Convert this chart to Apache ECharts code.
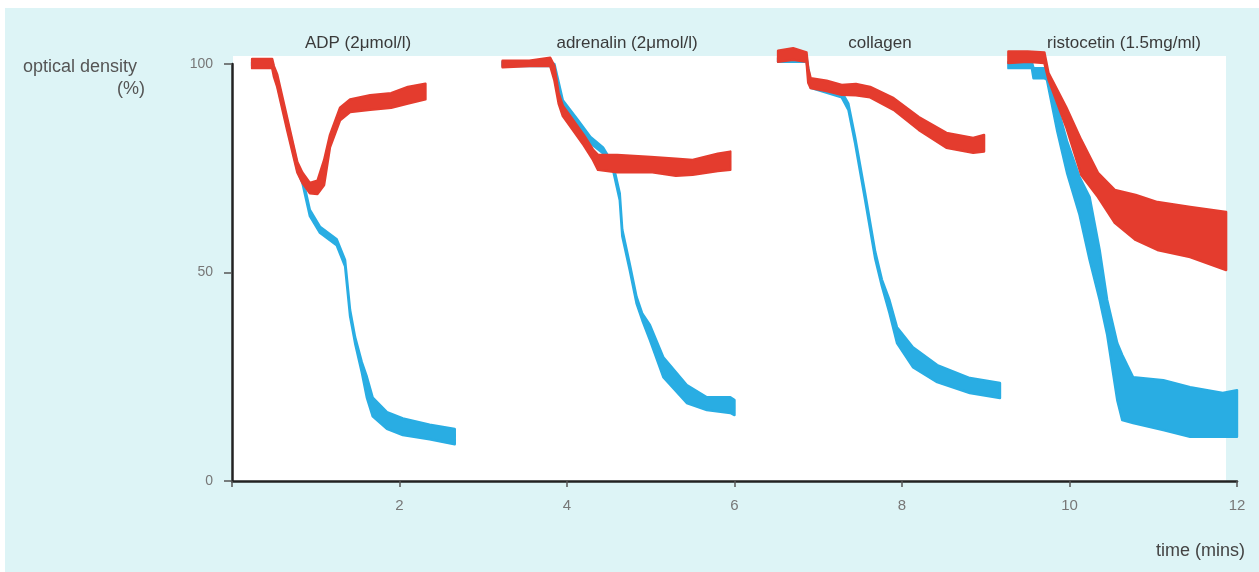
<!DOCTYPE html>
<html><head><meta charset="utf-8">
<script src="https://cdn.jsdelivr.net/npm/echarts@6/dist/echarts.min.js"></script>
<style>html,body{margin:0;padding:0;background:#fff}#c{width:1259px;height:572px}</style>
</head><body><div id="c"></div>
<script>
// ---- axis ticks ----
const xTicks = [0, 2, 4, 6, 8, 10, 12];
const yTicks = [0, 50, 100];
const panelTitles = ['ADP (2\u03bcmol/l)', 'adrenalin (2\u03bcmol/l)', 'collagen', 'ristocetin (1.5mg/ml)'];

// ---- ADP ----
const adpRedT  = [0.24, 0.48, 0.50, 0.54, 0.66, 0.78, 0.84, 0.93, 1.02, 1.10, 1.17, 1.29, 1.41, 1.65, 1.90, 2.10, 2.31];
const adpRedHi = [101.2,101.2,99.5, 97.5, 87.0, 76.5, 74.0, 71.5, 72.0, 77.0, 83.0, 89.5, 91.5, 92.5, 93.0, 94.5, 95.3];
const adpRedLo = [99.0, 99.0, 97.0, 94.5, 84.0, 74.0, 71.5, 69.0, 68.8, 71.0, 80.0, 86.5, 88.5, 89.0, 89.5, 90.5, 91.5];

const adpBlueT  = [0.24, 0.48, 0.54, 0.78, 0.84, 0.93, 1.05, 1.25, 1.35, 1.41, 1.47, 1.55, 1.61, 1.68, 1.85, 2.04, 2.36, 2.66];
const adpBlueHi = [100.5,100.5,96.5, 76.0, 73.0, 65.0, 61.0, 58.0, 53.0, 41.0, 34.5, 28.5, 25.0, 20.0, 16.5, 15.0, 13.5, 12.5];
const adpBlueLo = [99.5, 99.5, 95.0, 74.5, 71.5, 63.5, 59.5, 56.5, 51.5, 39.5, 33.0, 26.0, 20.0, 15.5, 12.5, 11.0, 10.0, 8.8];

// ---- adrenalin ----
const adrRedT  = [3.23, 3.55, 3.80, 3.85, 3.90, 3.95, 4.04, 4.20, 4.31, 4.37, 4.60, 5.00, 5.30, 5.50, 5.80, 5.95];
const adrRedHi = [100.8,100.8,101.5,99.5, 93.0, 90.0, 87.5, 83.0, 79.5, 78.2, 78.2, 77.7, 77.3, 77.0, 78.5, 79.0];
const adrRedLo = [99.2, 99.5, 99.5, 96.0, 90.5, 87.5, 85.0, 80.5, 77.0, 74.6, 74.0, 74.1, 73.2, 73.4, 74.3, 74.6];

const adrBlueT  = [3.23, 3.80, 3.85, 3.95, 4.13, 4.28, 4.43, 4.55, 4.63, 4.66, 4.75, 4.83, 4.90, 4.99, 5.15, 5.43, 5.67, 5.95, 6.00];
const adrBlueHi = [100.5,100.5,100.0,91.3, 86.6, 82.5, 80.0, 76.0, 69.0, 60.3, 52.0, 44.2, 40.1, 37.4, 29.7, 23.0, 20.1, 20.1, 19.4];
const adrBlueLo = [99.5, 99.5, 98.5, 89.8, 85.2, 81.0, 78.6, 74.5, 67.3, 58.7, 50.5, 42.6, 38.5, 33.8, 24.9, 18.7, 17.0, 16.3, 15.8];

// ---- collagen ----
const colRedT  = [6.52, 6.70, 6.86, 6.88, 6.91, 7.10, 7.28, 7.45, 7.62, 7.90, 8.20, 8.53, 8.85, 8.98];
const colRedHi = [103.2,103.8,102.8,99.0, 96.6, 96.0, 95.0, 95.2, 94.5, 91.8, 87.3, 83.5, 82.3, 83.0];
const colRedLo = [100.5,101.0,100.5,95.5, 94.2, 93.5, 92.6, 92.5, 92.0, 89.0, 84.2, 79.9, 78.7, 79.0];

const colBlueT  = [6.52, 6.86, 6.91, 7.28, 7.36, 7.44, 7.56, 7.68, 7.76, 7.85, 7.94, 8.13, 8.42, 8.81, 9.17];
const colBlueHi = [101.5,101.5,95.5, 93.3, 90.5, 82.5, 69.0, 55.0, 48.3, 43.4, 36.9, 32.1, 27.8, 24.7, 23.5];
const colBlueLo = [100.5,100.5,94.3, 92.0, 89.0, 81.0, 67.3, 53.3, 46.7, 40.3, 33.1, 27.3, 23.7, 21.1, 19.9];

// ---- ristocetin ----
const risRedT  = [9.27, 9.50, 9.70, 9.75, 9.96, 10.14, 10.34, 10.54, 10.79, 11.05, 11.44, 11.87];
const risRedHi = [103.0,103.0,102.8,97.8, 89.7, 81.8,  73.9,  69.8,  68.6,  66.9,  65.7,  64.5];
const risRedLo = [100.2,100.5,100.2,96.2, 84.9, 73.4,  68.1,  61.9,  57.8,  55.4,  53.7,  50.6];

const risBlueT  = [9.27, 9.55, 9.57, 9.70, 9.73, 9.85, 9.97, 10.12, 10.24, 10.36, 10.45, 10.57, 10.63, 10.76, 11.12, 11.44, 11.83, 12.00];
const risBlueHi = [100.5,100.5,99.0, 99.0, 97.8, 90.2, 81.5, 72.9,  68.1,  55.4,  43.4,  33.1,  30.2,  24.9,  24.2,  22.5,  21.1,  21.8];
const risBlueLo = [99.0, 99.0, 96.6, 96.6, 96.2, 84.2, 73.9, 63.8,  53.0,  43.4,  35.0,  19.4,  14.6,  13.9,  12.2,  10.6,  10.6,  10.6];

const RED = '#e43c2e';
const BLUE = '#29ade3';

function band(name, color, T, HI, LO) {
  return {
    type: 'custom', name: name, coordinateSystem: 'cartesian2d',
    silent: true, animation: false, clip: false,
    encode: { x: 0, y: [1, 2] },
    data: T.map(function (t, i) { return [t, HI[i], LO[i]]; }),
    renderItem: function (params, api) {
      if (params.dataIndex !== 0) return null;
      const pts = [];
      for (let i = 0; i < T.length; i++) pts.push(api.coord([T[i], HI[i]]));
      for (let i = T.length - 1; i >= 0; i--) pts.push(api.coord([T[i], LO[i]]));
      return { type: 'polygon', shape: { points: pts },
        style: { fill: color, stroke: color, lineWidth: 2.4, lineJoin: 'round' } };
    }
  };
}

const chart = echarts.init(document.getElementById('c'), null, { renderer: 'canvas' });
const FONT = 'Liberation Sans, Arial, sans-serif';
const titleX = [358, 627, 880, 1124];

const graphics = [
  { type: 'rect', z: -10, shape: { x: 5, y: 8, width: 1254, height: 564 }, style: { fill: '#ddf4f6' } },
  { type: 'rect', z: -9, shape: { x: 233, y: 56, width: 993, height: 425 }, style: { fill: '#ffffff' } },
  { type: 'text', x: 23, y: 67, style: { text: 'optical density', font: '18px ' + FONT, fill: '#555', textVerticalAlign: 'middle' } },
  { type: 'text', x: 145, y: 89, style: { text: '(%)', font: '18px ' + FONT, fill: '#555', textAlign: 'right', textVerticalAlign: 'middle' } },
  { type: 'text', x: 1245, y: 551, style: { text: 'time (mins)', font: '18px ' + FONT, fill: '#444', textAlign: 'right', textVerticalAlign: 'middle' } }
];
panelTitles.forEach(function (t, i) {
  graphics.push({ type: 'text', x: titleX[i], y: 43,
    style: { text: t, font: '17px ' + FONT, fill: '#3a3a3a', textAlign: 'center', textVerticalAlign: 'middle' } });
});

chart.setOption({
  backgroundColor: '#ffffff',
  animation: false,
  graphic: graphics,
  grid: { left: 232, right: 22, top: 64, bottom: 91, containLabel: false },
  xAxis: {
    type: 'value', min: xTicks[0], max: xTicks[xTicks.length - 1], interval: 2,
    axisLine: { show: true, onZero: false, lineStyle: { color: '#222', width: 2.5 } },
    axisTick: { show: true, length: 6, lineStyle: { color: '#555', width: 1.5 } },
    axisLabel: { color: '#777', fontSize: 15, fontFamily: FONT, margin: 17,
      formatter: function (v) { return v === 0 ? '' : String(v); } },
    splitLine: { show: false }
  },
  yAxis: {
    type: 'value', min: yTicks[0], max: yTicks[yTicks.length - 1], interval: 50,
    axisLine: { show: true, onZero: false, lineStyle: { color: '#222', width: 2.5 } },
    axisTick: { show: true, length: 8, lineStyle: { color: '#555', width: 1.5 } },
    axisLabel: { color: '#777', fontSize: 14, fontFamily: FONT, margin: 19 },
    splitLine: { show: false }
  },
  series: [
    band('ADP aggregation', BLUE, adpBlueT, adpBlueHi, adpBlueLo),
    band('adrenalin aggregation', BLUE, adrBlueT, adrBlueHi, adrBlueLo),
    band('collagen aggregation', BLUE, colBlueT, colBlueHi, colBlueLo),
    band('ristocetin aggregation', BLUE, risBlueT, risBlueHi, risBlueLo),
    band('ADP patient', RED, adpRedT, adpRedHi, adpRedLo),
    band('adrenalin patient', RED, adrRedT, adrRedHi, adrRedLo),
    band('collagen patient', RED, colRedT, colRedHi, colRedLo),
    band('ristocetin patient', RED, risRedT, risRedHi, risRedLo)
  ]
});
</script>
</body></html>
